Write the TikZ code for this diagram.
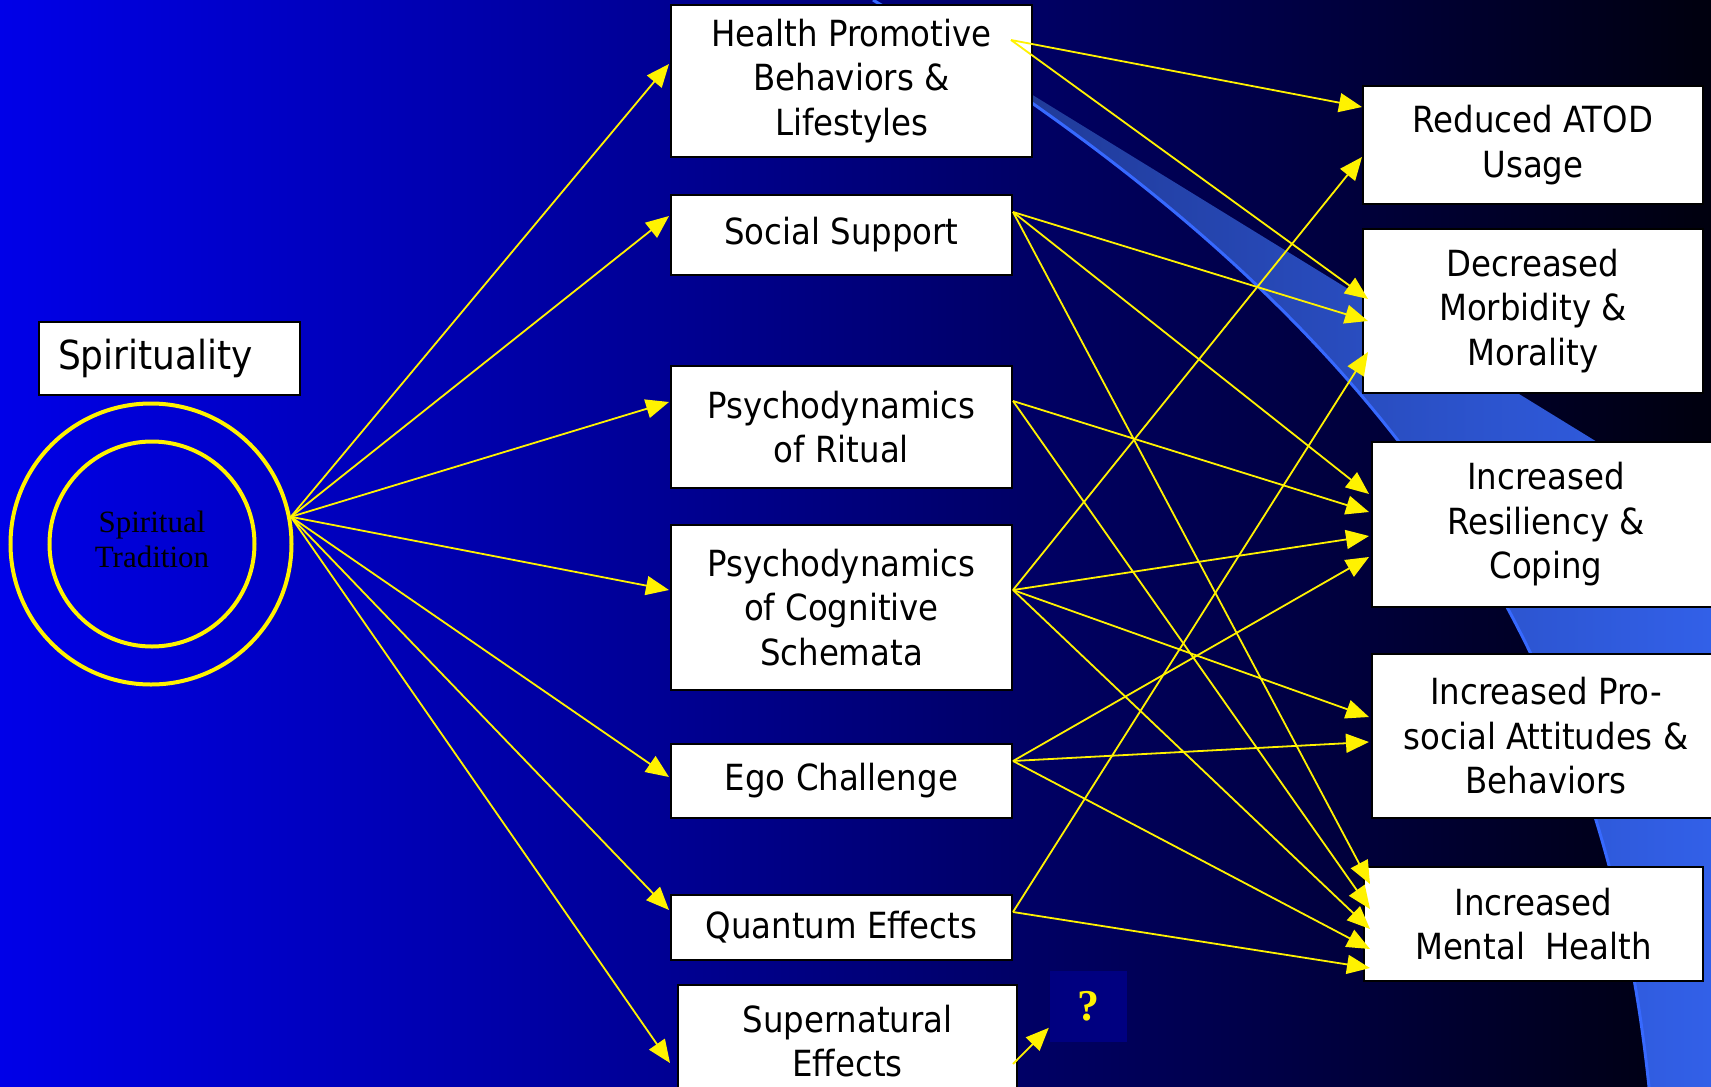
\documentclass[tikz,border=0pt]{standalone}
\usepackage{fontspec}
\usepackage{tikz}
\usetikzlibrary{calc,arrows.meta}
\newfontfamily\boxfont{DejaVu Sans Condensed}
\newfontfamily\serifont{Liberation Serif}
\definecolor{bgleft}{RGB}{0,0,232}
\definecolor{bgright}{RGB}{0,0,14}
\definecolor{swleft}{RGB}{28,50,135}
\definecolor{swright}{RGB}{50,96,232}
\definecolor{swedge}{RGB}{55,105,255}
\definecolor{qnavy}{RGB}{0,0,128}
\tikzset{
  outcome/.style={draw=black,fill=white,line width=2pt,inner sep=0pt,align=center,
    font=\boxfont\fontsize{36}{44.5}\selectfont},
  yarrow/.style={draw=yellow,line width=1.8pt,-{Triangle[length=23pt,width=19pt,fill=yellow]}},
  ring/.style={circle,draw=yellow,line width=4pt,inner sep=0pt}
}
\newcommand\conn[6]{
  \draw[yarrow] ($(#1.north east)+(#2,#3)$) -- ($(#4.north west)+(#5,#6)$);
}

\begin{document}
\begin{tikzpicture}[x=1pt,y=-1pt]
  \clip (0,0) rectangle (1711,1087);
  \shade[left color=bgleft,right color=bgright] (0,0) rectangle (1711,1087);
  % swoosh behind the outcomes
  \shade[left color=swleft,right color=swright]
    (873,0) .. controls (1368,298) and (1601,624) .. (1649,1087)
    -- (1711,1087) -- (1711,512) -- (1000,75) -- cycle;
  \draw[swedge,line width=3pt] (873,0) .. controls (1368,298) and (1601,624) .. (1649,1087);

  \node[outcome,minimum width=261pt,minimum height=73pt,text width=223pt,align=left,
    font=\boxfont\fontsize{40}{48}\selectfont] (spirit) at (169.5,358.5) {Spirituality};
  \node[ring,minimum size=281pt] (outer) at (151,544) {};
  \node[ring,minimum size=205pt] (inner) at (152,544) {};
  \node[align=center,inner sep=0pt,
    font=\serifont\fontsize{31}{35}\selectfont] (tradition) at (152,539) {Spiritual\\Tradition};

  \node[outcome,minimum width=361pt,minimum height=152pt] (health) at (851.5,81) {Health Promotive\\Behaviors \&\\Lifestyles};
  \node[outcome,minimum width=341pt,minimum height=80pt] (social) at (841.5,235) {Social Support};
  \node[outcome,minimum width=341pt,minimum height=122pt] (ritual) at (841.5,427) {Psychodynamics\\of Ritual};
  \node[outcome,minimum width=341pt,minimum height=165pt] (schema) at (841.5,607.5) {Psychodynamics\\of Cognitive\\Schemata};
  \node[outcome,minimum width=341pt,minimum height=74pt] (ego) at (841.5,781) {Ego Challenge};
  \node[outcome,minimum width=341pt,minimum height=65pt] (quantum) at (841.5,927.5) {Quantum Effects};
  \node[outcome,minimum width=339pt,minimum height=112pt] (super) at (847.5,1041) {Supernatural\\Effects};

  \node[outcome,minimum width=340pt,minimum height=118pt] (atod) at (1533,145) {Reduced ATOD\\Usage};
  \node[outcome,minimum width=340pt,minimum height=164pt] (decreased) at (1533,311) {Decreased\\Morbidity \&\\Morality};
  \node[outcome,minimum width=348pt,minimum height=165pt] (resilience) at (1546,524.5) {Increased\\Resiliency \&\\Coping};
  \node[outcome,minimum width=348pt,minimum height=164pt] (prosocial) at (1546,736) {Increased Pro-\\social Attitudes \&\\Behaviors};
  \node[outcome,minimum width=339pt,minimum height=114pt] (mental) at (1533.5,924) {Increased\\Mental\ \ Health};

  \node[fill=qnavy,minimum width=77pt,minimum height=71pt,text=yellow,
    font=\serifont\bfseries\fontsize{44}{44}\selectfont] (query) at (1088.5,1006.5) {?};

  \foreach \tgt/\dx/\dy in {health/-1/60,social/-1/22,ritual/-1/37,schema/-1/66,
                            ego/-1/34,quantum/-1/16,super/-7/79}
    \draw[yarrow] (outer.11) -- ($(\tgt.north west)+(\dx,\dy)$);

  \conn{health}{-22}{36}{atod}{0}{22}
  \conn{health}{-22}{36}{decreased}{6}{71}
  \conn{social}{0}{18}{decreased}{6}{93}
  \conn{social}{0}{18}{resilience}{-2}{53}
  \conn{social}{0}{18}{mental}{7}{18}
  \conn{ritual}{0}{36}{resilience}{-2}{71}
  \conn{ritual}{0}{36}{mental}{7}{43}
  \conn{schema}{0}{66}{atod}{0}{72}
  \conn{schema}{0}{66}{resilience}{-2}{95}
  \conn{schema}{0}{66}{prosocial}{-2}{64}
  \conn{schema}{0}{66}{mental}{7}{63}
  \conn{ego}{0}{18}{resilience}{-2}{116}
  \conn{ego}{0}{18}{prosocial}{-2}{89}
  \conn{ego}{0}{18}{mental}{7}{83}
  \conn{quantum}{0}{18}{decreased}{6}{124}
  \conn{quantum}{0}{18}{mental}{7}{102}
  \conn{super}{-5}{80}{query}{-1}{57}
\end{tikzpicture}
\end{document}
